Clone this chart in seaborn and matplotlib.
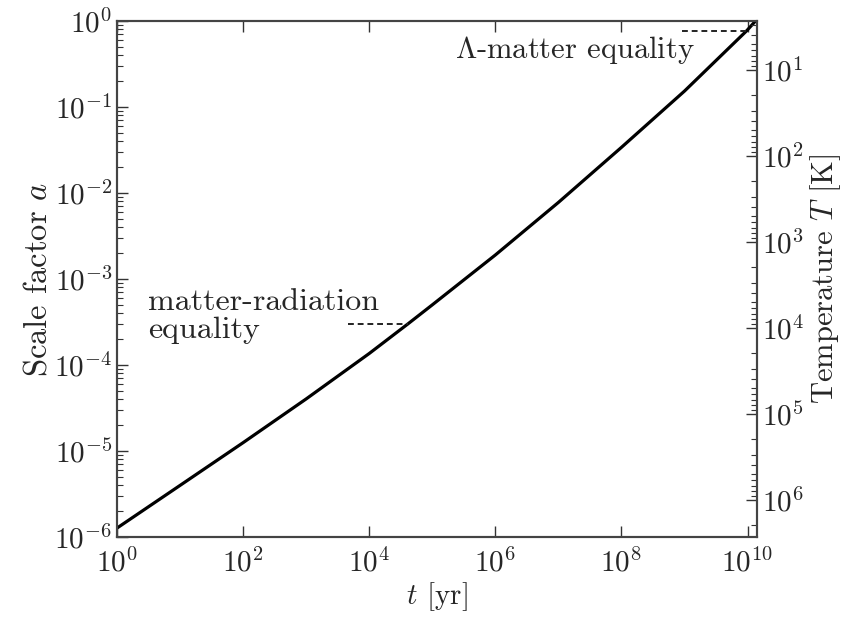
import matplotlib
matplotlib.use('Agg')
import matplotlib.pyplot as plt
import matplotlib.ticker as mticker
import numpy as np
import pandas as pd
import seaborn as sns

# points (t in yr, scale factor a)
t_yr = [1.0, 1e1, 1e2, 1e3, 1e4, 4.1e4, 1e5, 1e6, 1e7, 1e8, 1e9, 9.64e9, 1.34e10]
scale_a = [1.27e-6, 3.98e-6, 1.25e-5, 4.03e-5, 1.36e-4, 3.0e-4, 5.0e-4, 1.9e-3, 7.76e-3, 3.39e-2, 1.53e-1, 7.66e-1, 1.0]

# dashed markers of the two equalities
eq_rad_t = [4.6e3, 4.1e4]
eq_rad_a = [3.0e-4, 3.0e-4]
eq_lam_t = [9.3e8, 9.9e9]
eq_lam_a = [7.66e-1, 7.66e-1]

T0 = 2.725  # K today
xticks = [1e0, 1e2, 1e4, 1e6, 1e8, 1e10]
T_ticks = [1e1, 1e2, 1e3, 1e4, 1e5, 1e6]

df = pd.DataFrame({'t': t_yr, 'a': scale_a})

sns.set_style('ticks')
plt.rcParams['font.family'] = ['cmr10', 'DejaVu Serif']
plt.rcParams['mathtext.fontset'] = 'cm'
plt.rcParams['axes.formatter.use_mathtext'] = True
plt.rcParams['axes.unicode_minus'] = False

fig = plt.figure(figsize=(8.45, 6.17), dpi=100)
ax = fig.add_axes([0.1385, 0.1297, 0.7575, 0.8363])

sns.lineplot(data=df, x='t', y='a', ax=ax, color='black', lw=2.3)
ax.plot(eq_rad_t, eq_rad_a, color='#222', lw=1.4, ls=(0, (3, 2)))
ax.plot(eq_lam_t, eq_lam_a, color='#222', lw=1.4, ls=(0, (3, 2)))

ax.set_xscale('log')
ax.set_yscale('log')
ax.set_xlim(1, 1.42e10)
ax.set_ylim(1e-6, 1)
ax.set_xticks(xticks)
ax.xaxis.set_minor_locator(mticker.NullLocator())
ax.yaxis.set_major_locator(mticker.LogLocator(base=10, numticks=10))
ax.yaxis.set_minor_locator(mticker.LogLocator(base=10, subs=np.arange(2, 10), numticks=20))
ax.set_xlabel(r'$t$ [yr]', fontsize=21, labelpad=2)
ax.set_ylabel(r'Scale factor $a$', fontsize=23.5, labelpad=1)

ax.text(3.1, 5.3e-4, 'matter-radiation', fontsize=23, va='center')
ax.text(3.1, 2.55e-4, 'equality', fontsize=23, va='center')
ax.text(1.45e9, 0.46, r'$\Lambda$-matter equality', fontsize=22, va='center', ha='right')

ax2 = ax.twinx()
ax2.set_yscale('log')
ax2.set_ylim(T0 / 1e-6, T0 / 1.0)
ax2.yaxis.set_major_locator(mticker.FixedLocator(T_ticks))
ax2.yaxis.set_minor_locator(mticker.LogLocator(base=10, subs=np.arange(2, 10), numticks=20))
ax2.set_ylabel(r'Temperature $T$ [K]', fontsize=22, labelpad=3)

for a in (ax, ax2):
    a.tick_params(which='both', direction='in', labelsize=21, color='#333')
    a.tick_params(which='major', length=8, width=1.0)
    a.tick_params(which='minor', length=4, width=0.8)
    for s in a.spines.values():
        s.set_linewidth(1.5)
        s.set_color('#444')
ax.tick_params(which='both', top=True, right=False)
ax.tick_params(axis='x', pad=8)

fig.savefig('out.png', dpi=100)
